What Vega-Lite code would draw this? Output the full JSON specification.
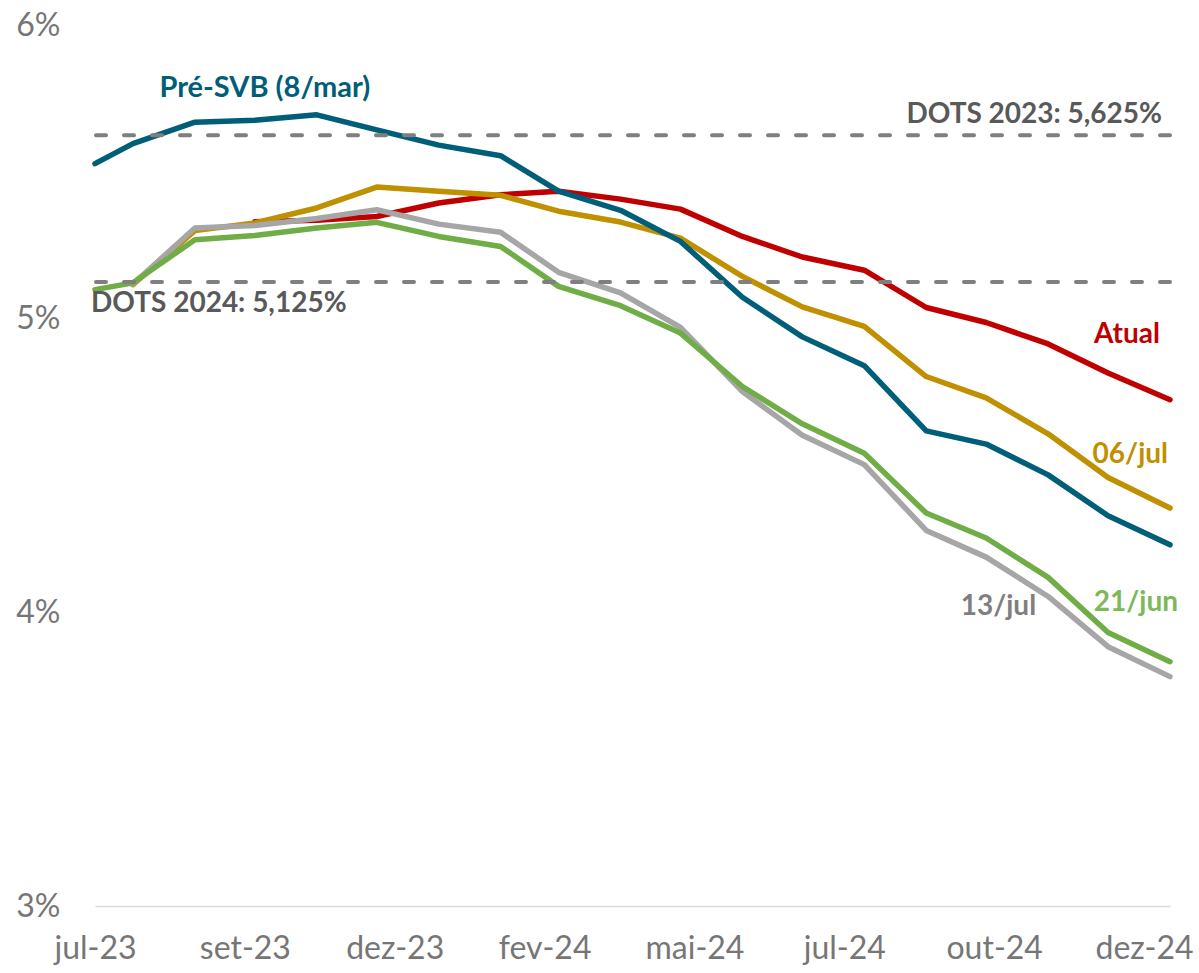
{
  "$schema": "https://vega.github.io/schema/vega-lite/v6.json",
  "width": 1075,
  "height": 881,
  "autosize": "none",
  "padding": {"left": 95, "top": 25, "right": 29, "bottom": 67},
  "background": "white",
  "config": {"view": {"stroke": null}, "font": "Lato"},
  "datasets": {
    "curves": [
      {"series": "Atual", "date": "2023-10-01", "value": 5.330},
      {"series": "Atual", "date": "2023-11-01", "value": 5.335},
      {"series": "Atual", "date": "2023-12-01", "value": 5.348},
      {"series": "Atual", "date": "2024-01-01", "value": 5.394},
      {"series": "Atual", "date": "2024-02-01", "value": 5.422},
      {"series": "Atual", "date": "2024-03-01", "value": 5.434},
      {"series": "Atual", "date": "2024-04-01", "value": 5.407},
      {"series": "Atual", "date": "2024-05-01", "value": 5.373},
      {"series": "Atual", "date": "2024-06-01", "value": 5.280},
      {"series": "Atual", "date": "2024-07-01", "value": 5.210},
      {"series": "Atual", "date": "2024-08-01", "value": 5.165},
      {"series": "Atual", "date": "2024-09-01", "value": 5.038},
      {"series": "Atual", "date": "2024-10-01", "value": 4.987},
      {"series": "Atual", "date": "2024-11-01", "value": 4.914},
      {"series": "Atual", "date": "2024-12-01", "value": 4.815},
      {"series": "Atual", "date": "2025-01-01", "value": 4.724},

      {"series": "06/jul", "date": "2023-08-01", "value": 5.116},
      {"series": "06/jul", "date": "2023-09-01", "value": 5.300},
      {"series": "06/jul", "date": "2023-10-01", "value": 5.326},
      {"series": "06/jul", "date": "2023-11-01", "value": 5.377},
      {"series": "06/jul", "date": "2023-12-01", "value": 5.448},
      {"series": "06/jul", "date": "2024-01-01", "value": 5.434},
      {"series": "06/jul", "date": "2024-02-01", "value": 5.420},
      {"series": "06/jul", "date": "2024-03-01", "value": 5.366},
      {"series": "06/jul", "date": "2024-04-01", "value": 5.329},
      {"series": "06/jul", "date": "2024-05-01", "value": 5.274},
      {"series": "06/jul", "date": "2024-06-01", "value": 5.144},
      {"series": "06/jul", "date": "2024-07-01", "value": 5.040},
      {"series": "06/jul", "date": "2024-08-01", "value": 4.974},
      {"series": "06/jul", "date": "2024-09-01", "value": 4.803},
      {"series": "06/jul", "date": "2024-10-01", "value": 4.730},
      {"series": "06/jul", "date": "2024-11-01", "value": 4.608},
      {"series": "06/jul", "date": "2024-12-01", "value": 4.459},
      {"series": "06/jul", "date": "2025-01-01", "value": 4.355},

      {"series": "Pré-SVB", "date": "2023-07-13", "value": 5.528},
      {"series": "Pré-SVB", "date": "2023-08-01", "value": 5.596},
      {"series": "Pré-SVB", "date": "2023-09-01", "value": 5.669},
      {"series": "Pré-SVB", "date": "2023-10-01", "value": 5.676},
      {"series": "Pré-SVB", "date": "2023-11-01", "value": 5.694},
      {"series": "Pré-SVB", "date": "2023-12-01", "value": 5.643},
      {"series": "Pré-SVB", "date": "2024-01-01", "value": 5.591},
      {"series": "Pré-SVB", "date": "2024-02-01", "value": 5.555},
      {"series": "Pré-SVB", "date": "2024-03-01", "value": 5.434},
      {"series": "Pré-SVB", "date": "2024-04-01", "value": 5.369},
      {"series": "Pré-SVB", "date": "2024-05-01", "value": 5.263},
      {"series": "Pré-SVB", "date": "2024-06-01", "value": 5.073},
      {"series": "Pré-SVB", "date": "2024-07-01", "value": 4.938},
      {"series": "Pré-SVB", "date": "2024-08-01", "value": 4.840},
      {"series": "Pré-SVB", "date": "2024-09-01", "value": 4.618},
      {"series": "Pré-SVB", "date": "2024-10-01", "value": 4.573},
      {"series": "Pré-SVB", "date": "2024-11-01", "value": 4.468},
      {"series": "Pré-SVB", "date": "2024-12-01", "value": 4.329},
      {"series": "Pré-SVB", "date": "2025-01-01", "value": 4.230},

      {"series": "13/jul", "date": "2023-08-01", "value": 5.118},
      {"series": "13/jul", "date": "2023-09-01", "value": 5.309},
      {"series": "13/jul", "date": "2023-10-01", "value": 5.317},
      {"series": "13/jul", "date": "2023-11-01", "value": 5.341},
      {"series": "13/jul", "date": "2023-12-01", "value": 5.371},
      {"series": "13/jul", "date": "2024-01-01", "value": 5.322},
      {"series": "13/jul", "date": "2024-02-01", "value": 5.294},
      {"series": "13/jul", "date": "2024-03-01", "value": 5.158},
      {"series": "13/jul", "date": "2024-04-01", "value": 5.088},
      {"series": "13/jul", "date": "2024-05-01", "value": 4.970},
      {"series": "13/jul", "date": "2024-06-01", "value": 4.752},
      {"series": "13/jul", "date": "2024-07-01", "value": 4.603},
      {"series": "13/jul", "date": "2024-08-01", "value": 4.503},
      {"series": "13/jul", "date": "2024-09-01", "value": 4.279},
      {"series": "13/jul", "date": "2024-10-01", "value": 4.188},
      {"series": "13/jul", "date": "2024-11-01", "value": 4.054},
      {"series": "13/jul", "date": "2024-12-01", "value": 3.883},
      {"series": "13/jul", "date": "2025-01-01", "value": 3.781},

      {"series": "21/jun", "date": "2023-07-13", "value": 5.099},
      {"series": "21/jun", "date": "2023-08-01", "value": 5.122},
      {"series": "21/jun", "date": "2023-09-01", "value": 5.269},
      {"series": "21/jun", "date": "2023-10-01", "value": 5.283},
      {"series": "21/jun", "date": "2023-11-01", "value": 5.309},
      {"series": "21/jun", "date": "2023-12-01", "value": 5.328},
      {"series": "21/jun", "date": "2024-01-01", "value": 5.280},
      {"series": "21/jun", "date": "2024-02-01", "value": 5.246},
      {"series": "21/jun", "date": "2024-03-01", "value": 5.110},
      {"series": "21/jun", "date": "2024-04-01", "value": 5.044},
      {"series": "21/jun", "date": "2024-05-01", "value": 4.951},
      {"series": "21/jun", "date": "2024-06-01", "value": 4.769},
      {"series": "21/jun", "date": "2024-07-01", "value": 4.642},
      {"series": "21/jun", "date": "2024-08-01", "value": 4.542},
      {"series": "21/jun", "date": "2024-09-01", "value": 4.338},
      {"series": "21/jun", "date": "2024-10-01", "value": 4.253},
      {"series": "21/jun", "date": "2024-11-01", "value": 4.119},
      {"series": "21/jun", "date": "2024-12-01", "value": 3.931},
      {"series": "21/jun", "date": "2025-01-01", "value": 3.832}
    ],
    "dots": [
      {"dots": 5.625},
      {"dots": 5.125}
    ],
    "labels": [
      {"label": "Pré-SVB (8/mar)", "date": "2023-10-06", "value": 5.784},
      {"label": "DOTS 2023: 5,625%", "date": "2024-12-28", "value": 5.695},
      {"label": "DOTS 2024: 5,125%", "date": "2023-07-11", "value": 5.051},
      {"label": "Atual", "date": "2024-12-27", "value": 4.945},
      {"label": "06/jul", "date": "2024-12-31", "value": 4.537},
      {"label": "13/jul", "date": "2024-10-26", "value": 4.019},
      {"label": "21/jun", "date": "2025-01-05", "value": 4.032}
    ]
  },
  "layer": [
    {
      "data": {"name": "curves"},
      "mark": {"type": "line", "strokeWidth": 5.5, "strokeCap": "round", "strokeJoin": "round"},
      "encoding": {
        "x": {
          "field": "date",
          "type": "temporal",
          "scale": {
            "type": "utc",
            "domain": [
              {"year": 2023, "month": 7, "date": 13, "utc": true},
              {"year": 2025, "month": 1, "date": 1, "utc": true}
            ]
          },
          "axis": {
            "title": null,
            "grid": false,
            "ticks": false,
            "domainColor": "#d9d9d9",
            "domainWidth": 1.5,
            "labelFontSize": 32,
            "labelColor": "#767676",
            "labelPadding": 27,
            "labelFlush": false,
            "labelOverlap": false,
            "values": [
              {"year": 2023, "month": 7, "date": 13, "utc": true},
              {"year": 2023, "month": 9, "date": 26, "utc": true},
              {"year": 2023, "month": 12, "date": 10, "utc": true},
              {"year": 2024, "month": 2, "date": 23, "utc": true},
              {"year": 2024, "month": 5, "date": 8, "utc": true},
              {"year": 2024, "month": 7, "date": 22, "utc": true},
              {"year": 2024, "month": 10, "date": 5, "utc": true},
              {"year": 2024, "month": 12, "date": 19, "utc": true}
            ],
            "labelExpr": "['jan','fev','mar','abr','mai','jun','jul','ago','set','out','nov','dez'][utcmonth(datum.value)] + '-' + utcFormat(datum.value, '%y')"
          }
        },
        "y": {
          "field": "value",
          "type": "quantitative",
          "scale": {"domain": [3, 6], "nice": false, "zero": false},
          "axis": {
            "title": null,
            "values": [3, 4, 5, 6],
            "labelExpr": "datum.value + '%'",
            "grid": false,
            "domain": false,
            "ticks": false,
            "labelPadding": 35,
            "labelFontSize": 32,
            "labelColor": "#767676"
          }
        },
        "color": {
          "field": "series",
          "type": "nominal",
          "scale": {
            "domain": ["Atual", "06/jul", "Pré-SVB", "13/jul", "21/jun"],
            "range": ["#C00000", "#BF9000", "#005E78", "#A6A6A6", "#70AD47"]
          },
          "legend": null
        }
      }
    },
    {
      "data": {"name": "dots"},
      "mark": {"type": "rule", "color": "#7f7f7f", "strokeWidth": 4, "strokeDash": [10, 18], "strokeCap": "round"},
      "encoding": {
        "y": {"field": "dots", "type": "quantitative"}
      }
    },
    {
      "data": {"name": "labels"},
      "transform": [{"filter": "datum.label === 'Pré-SVB (8/mar)'"}],
      "mark": {"type": "text", "align": "center", "baseline": "middle", "fontSize": 29, "fontWeight": "bold", "color": "#005E78"},
      "encoding": {
        "x": {"field": "date", "type": "temporal"},
        "y": {"field": "value", "type": "quantitative"},
        "text": {"field": "label"}
      }
    },
    {
      "data": {"name": "labels"},
      "transform": [{"filter": "datum.label === 'DOTS 2023: 5,625%'"}],
      "mark": {"type": "text", "align": "right", "baseline": "middle", "fontSize": 28, "fontWeight": "bold", "color": "#595959"},
      "encoding": {
        "x": {"field": "date", "type": "temporal"},
        "y": {"field": "value", "type": "quantitative"},
        "text": {"field": "label"}
      }
    },
    {
      "data": {"name": "labels"},
      "transform": [{"filter": "datum.label === 'DOTS 2024: 5,125%'"}],
      "mark": {"type": "text", "align": "left", "baseline": "middle", "fontSize": 28, "fontWeight": "bold", "color": "#595959"},
      "encoding": {
        "x": {"field": "date", "type": "temporal"},
        "y": {"field": "value", "type": "quantitative"},
        "text": {"field": "label"}
      }
    },
    {
      "data": {"name": "labels"},
      "transform": [{"filter": "datum.label === 'Atual'"}],
      "mark": {"type": "text", "align": "right", "baseline": "middle", "fontSize": 28, "fontWeight": "bold", "color": "#C00000"},
      "encoding": {
        "x": {"field": "date", "type": "temporal"},
        "y": {"field": "value", "type": "quantitative"},
        "text": {"field": "label"}
      }
    },
    {
      "data": {"name": "labels"},
      "transform": [{"filter": "datum.label === '06/jul'"}],
      "mark": {"type": "text", "align": "right", "baseline": "middle", "fontSize": 28, "fontWeight": "bold", "color": "#BF9000"},
      "encoding": {
        "x": {"field": "date", "type": "temporal"},
        "y": {"field": "value", "type": "quantitative"},
        "text": {"field": "label"}
      }
    },
    {
      "data": {"name": "labels"},
      "transform": [{"filter": "datum.label === '13/jul'"}],
      "mark": {"type": "text", "align": "right", "baseline": "middle", "fontSize": 28, "fontWeight": "bold", "color": "#7F7F7F"},
      "encoding": {
        "x": {"field": "date", "type": "temporal"},
        "y": {"field": "value", "type": "quantitative"},
        "text": {"field": "label"}
      }
    },
    {
      "data": {"name": "labels"},
      "transform": [{"filter": "datum.label === '21/jun'"}],
      "mark": {"type": "text", "align": "right", "baseline": "middle", "fontSize": 28, "fontWeight": "bold", "color": "#7DB85A"},
      "encoding": {
        "x": {"field": "date", "type": "temporal"},
        "y": {"field": "value", "type": "quantitative"},
        "text": {"field": "label"}
      }
    }
  ]
}
